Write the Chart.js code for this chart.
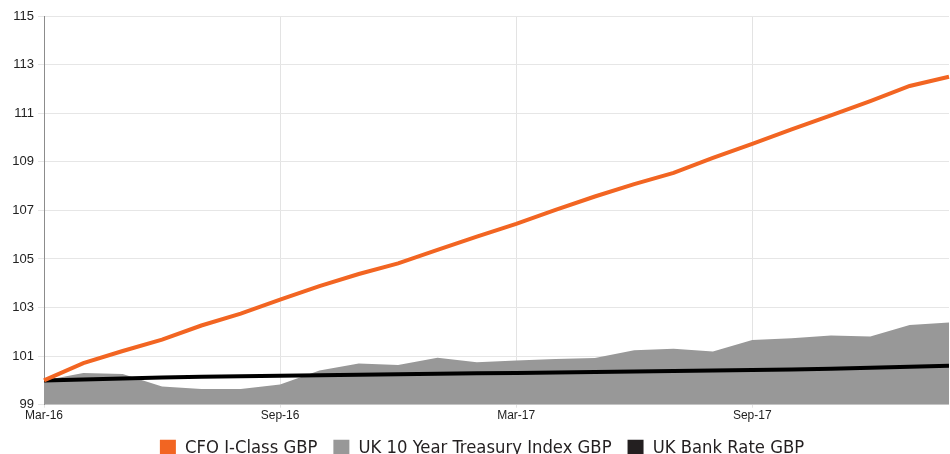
<!DOCTYPE html>
<html>
<head>
<meta charset="utf-8">
<script src="https://cdn.jsdelivr.net/npm/chart.js@4"></script>
<style>
  html, body { margin: 0; padding: 0; background: #fff; overflow: hidden; }
  #wrap { position: relative; width: 950px; height: 467px; }
</style>
</head>
<body>
<div id="wrap"><canvas id="Chart-perf"></canvas></div>
<script>
// months Mar-16 .. Feb-18
const months = ['Mar-16','Apr-16','May-16','Jun-16','Jul-16','Aug-16','Sep-16','Oct-16','Nov-16','Dec-16','Jan-17','Feb-17',
  'Mar-17','Apr-17','May-17','Jun-17','Jul-17','Aug-17','Sep-17','Oct-17','Nov-17','Dec-17','Jan-18','Feb-18']

const cfo_values = [100.0, 100.71, 101.21, 101.68, 102.26, 102.75, 103.33, 103.88, 104.38, 104.82, 105.37, 105.92,
  106.44, 107.02, 107.57, 108.08, 108.54, 109.16, 109.74, 110.33, 110.91, 111.50, 112.12, 112.50]

const gilt_values = [100.0, 100.30, 100.26, 99.75, 99.65, 99.65, 99.83, 100.41, 100.70, 100.63, 100.93, 100.75,
  100.82, 100.88, 100.92, 101.24, 101.30, 101.19, 101.66, 101.74, 101.85, 101.81, 102.28, 102.38]

const bank_values = [100.0, 100.04, 100.08, 100.12, 100.15, 100.17, 100.19, 100.21, 100.23, 100.25, 100.27, 100.29,
  100.31, 100.33, 100.35, 100.37, 100.39, 100.41, 100.43, 100.45, 100.48, 100.52, 100.56, 100.60]

const y_min = 99
const y_max = 115
const y_step = 2

const ctx = document.getElementById('Chart-perf')

new Chart(ctx, {
  type: 'line',
  data: {
    labels: months,
    datasets: [{
      label: 'CFO I-Class GBP',
      data: cfo_values,
      borderColor: '#f26522',
      backgroundColor: '#f26522',
      borderWidth: 4,
      pointRadius: 0,
      fill: false,
      order: 0
    }, {
      label: 'UK 10 Year Treasury Index GBP',
      data: gilt_values,
      borderColor: '#989898',
      backgroundColor: '#989898',
      borderWidth: 0,
      pointRadius: 0,
      fill: 'start',
      order: 2
    }, {
      label: 'UK Bank Rate GBP',
      data: bank_values,
      borderColor: '#000000',
      backgroundColor: '#231f20',
      borderWidth: 4,
      pointRadius: 0,
      fill: false,
      order: 1
    }]
  },
  options: {
    responsive: true,
    maintainAspectRatio: false,
    animation: false,
    layout: { padding: { left: 12, right: -2, top: 16, bottom: 0 } },
    plugins: {
      tooltip: { enabled: false },
      legend: {
        position: 'bottom',
        labels: {
          boxWidth: 16,
          boxHeight: 16,
          padding: 16,
          color: '#231f20',
          font: { family: '"DejaVu Sans Condensed", sans-serif', size: 18.3 },
          sort: (a, b) => a.datasetIndex - b.datasetIndex,
          generateLabels: (chart) => {
            const items = Chart.defaults.plugins.legend.labels.generateLabels(chart)
            items.forEach(it => { it.lineWidth = 0; it.strokeStyle = 'transparent' })
            return items
          }
        }
      }
    },
    scales: {
      x: {
        offset: false,
        afterFit: (s) => { s.height = 18 },
        grid: {
          color: (c) => (c.index % 6 === 0 ? '#e3e3e3' : 'transparent'),
          tickLength: 3
        },
        border: { display: false },
        ticks: {
          autoSkip: false,
          maxRotation: 0,
          color: '#222',
          padding: 1,
          font: { family: '"Liberation Sans", Arial, sans-serif', size: 12 },
          callback: function (v, i) { return i % 6 === 0 ? this.getLabelForValue(v) : '' }
        }
      },
      y: {
        min: y_min,
        max: y_max,
        afterFit: (s) => { s.width = 32 },
        grid: { color: '#e6e6e6', tickLength: 6 },
        border: { display: true, color: '#8c8c8c', width: 1 },
        ticks: {
          stepSize: y_step,
          color: '#222',
          padding: 4,
          font: { family: '"Liberation Sans", Arial, sans-serif', size: 13 }
        }
      }
    }
  }
})
</script>
</body>
</html>
